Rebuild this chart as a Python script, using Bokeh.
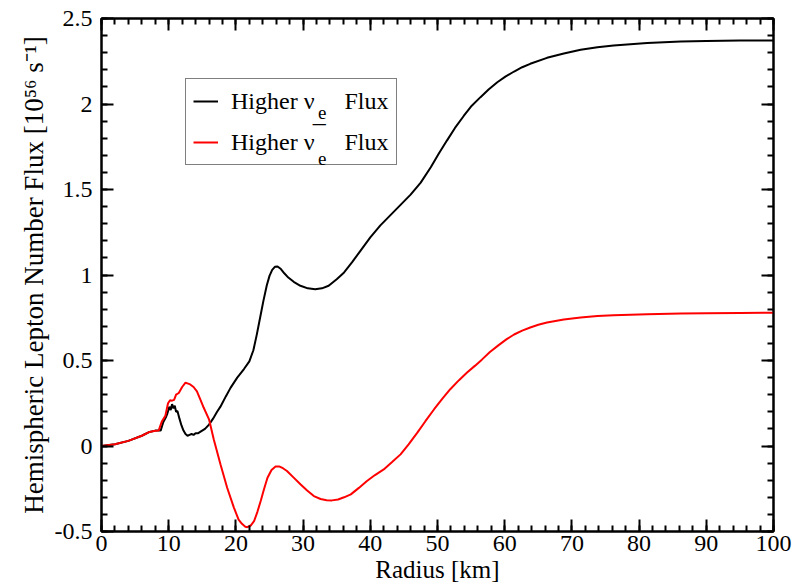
from bokeh.plotting import figure
from bokeh.models import (LinearAxis, FixedTicker, CustomJSTickFormatter, Legend, LegendItem,
                          Range1d, Label)
from bokeh.embed import file_html
from bokeh.resources import INLINE
import numpy as np

# ---- data ----
nue_x = [0, 2, 4, 6, 7, 8, 8.8, 9.2, 9.6, 9.8, 10.1, 10.3, 10.5, 10.7, 10.9, 11.1, 11.3, 11.6, 11.9,
         12.2, 12.5, 12.8, 13.1, 13.4, 13.7, 14.0, 14.4, 14.8, 15.4, 16.0, 16.6, 17.2, 17.7, 18.5,
         19.2, 20.2, 21.2, 22.0, 22.6, 23.1, 23.6, 24.1, 24.6, 25.0, 25.4, 25.8, 26.2, 26.7, 27.2,
         27.8, 28.6, 29.6, 30.7, 31.8, 32.8, 33.8, 35.0, 36.1, 37.3, 38.5, 40.0, 41.5, 43.0, 44.5,
         46.0, 47.5, 49.0, 50.2, 51.4, 52.6, 53.9, 55.1, 56.4, 57.6, 58.9, 60.1, 61.4, 62.6, 63.8,
         66.3, 68.8, 71.3, 73.8, 76.2, 78.7, 81.2, 86.2, 90, 95, 100]
nue_y = [0, 0.01, 0.03, 0.06, 0.08, 0.09, 0.09, 0.14, 0.17, 0.19, 0.23, 0.21, 0.245, 0.22, 0.235,
         0.20, 0.205, 0.16, 0.12, 0.09, 0.07, 0.06, 0.065, 0.07, 0.065, 0.075, 0.075, 0.085, 0.10,
         0.125, 0.16, 0.20, 0.23, 0.29, 0.34, 0.40, 0.45, 0.495, 0.56, 0.65, 0.75, 0.85, 0.94,
         0.995, 1.03, 1.048, 1.05, 1.035, 1.01, 0.985, 0.96, 0.937, 0.922, 0.917, 0.922, 0.937,
         0.975, 1.015, 1.075, 1.14, 1.22, 1.29, 1.35, 1.41, 1.47, 1.54, 1.63, 1.71, 1.786, 1.86,
         1.93, 1.99, 2.04, 2.085, 2.127, 2.16, 2.19, 2.215, 2.235, 2.27, 2.295, 2.317, 2.332,
         2.342, 2.35, 2.357, 2.365, 2.369, 2.371, 2.372]

anue_x = [0, 2, 4, 6, 7, 7.8, 8.5, 9.0, 9.5, 9.9, 10.2, 10.5, 10.8, 11.1, 11.5, 12.0, 12.5, 12.9,
          13.2, 13.7, 14.2, 14.7, 15.2, 16.0, 16.7, 17.7, 18.7, 19.7, 20.4, 20.9, 21.4, 21.7, 22.2,
          22.7, 23.2, 23.7, 24.2, 24.7, 25.3, 25.9, 26.5, 27.0, 27.6, 28.6, 29.6, 30.6, 31.6, 32.6,
          33.5, 34.3, 35.2, 36.1, 37.1, 38.3, 39.5, 40.7, 42.0, 43.2, 44.5, 45.7, 47.0, 48.2, 49.5,
          50.7, 51.9, 53.2, 54.4, 55.6, 56.6, 57.8, 59.1, 60.3, 61.4, 62.6, 63.8, 65.0, 66.3, 68.8,
          71.3, 73.8, 76.2, 81.2, 86.2, 90, 95, 100]
anue_y = [0, 0.01, 0.03, 0.06, 0.08, 0.088, 0.09, 0.145, 0.176, 0.25, 0.267, 0.265, 0.27, 0.30,
          0.31, 0.345, 0.37, 0.365, 0.36, 0.345, 0.32, 0.273, 0.225, 0.156, 0.04, -0.107, -0.244,
          -0.36, -0.43, -0.455, -0.472, -0.475, -0.465, -0.44, -0.385, -0.32, -0.25, -0.186, -0.14,
          -0.12, -0.12, -0.13, -0.146, -0.185, -0.224, -0.26, -0.293, -0.31, -0.317, -0.318,
          -0.313, -0.30, -0.283, -0.245, -0.205, -0.17, -0.137, -0.095, -0.049, 0.01, 0.078,
          0.145, 0.215, 0.275, 0.332, 0.385, 0.43, 0.47, 0.505, 0.55, 0.59, 0.625, 0.652, 0.675,
          0.693, 0.709, 0.722, 0.74, 0.751, 0.76, 0.765, 0.771, 0.775, 0.777, 0.778, 0.779]

x_ticks = [0, 10, 20, 30, 40, 50, 60, 70, 80, 90, 100]
y_ticks = [-0.5, 0, 0.5, 1, 1.5, 2, 2.5]
x_minor = [round(v, 3) for v in np.arange(0, 100.01, 2)]
y_minor = [round(v, 3) for v in np.arange(-0.5, 2.501, 0.1)]

NBSP = "\u00a0"
label_nue = "Higher \u03bd" + NBSP * 5 + "Flux"
label_anue = "Higher \u03bd" + NBSP * 5 + "Flux"
xlabel = "Radius [km]"
ylabel = "Hemispheric Lepton Number Flux [10\u2075\u2076 s\u207b\u00b9]"

FONT = "Liberation Serif"

p = figure(width=794, height=586, output_backend="svg", toolbar_location=None,
           x_range=Range1d(0, 100), y_range=Range1d(-0.5, 2.5),
           min_border_left=101, min_border_right=21, min_border_top=18, min_border_bottom=55,
           x_axis_label=xlabel, y_axis_label=ylabel)
p.grid.visible = False
p.outline_line_color = "black"
p.outline_line_width = 2
p.background_fill_color = "white"
p.border_fill_color = "white"

fmt = CustomJSTickFormatter(code="return tick.toString();")
blank_fmt = CustomJSTickFormatter(code="return '';")

def style_axis(ax, ticks, minor, show_labels):
    ax.ticker = FixedTicker(ticks=ticks, minor_ticks=minor)
    ax.axis_line_color = "black"
    ax.axis_line_width = 2
    ax.major_tick_in = 12
    ax.major_tick_out = 0
    ax.minor_tick_in = 6
    ax.minor_tick_out = 0
    ax.major_tick_line_width = 2
    ax.minor_tick_line_width = 2
    ax.major_tick_line_color = "black"
    ax.minor_tick_line_color = "black"
    if show_labels:
        ax.formatter = fmt
        ax.major_label_text_font = FONT
        ax.major_label_text_font_size = "24px"
        ax.major_label_text_color = "black"
        ax.axis_label_text_font = FONT
        ax.axis_label_text_font_size = "25px"
        ax.axis_label_text_font_style = "normal"
        ax.axis_label_text_color = "black"
    else:
        ax.formatter = blank_fmt
        ax.major_label_standoff = 0

style_axis(p.xaxis[0], x_ticks, x_minor, True)
style_axis(p.yaxis[0], y_ticks, y_minor, True)
p.xaxis[0].major_label_standoff = 4
p.xaxis[0].axis_label_standoff = 2
p.yaxis[0].major_label_standoff = 9
p.yaxis[0].axis_label_standoff = 3
p.yaxis[0].axis_label_text_font_size = "27px"

top_ax = LinearAxis()
right_ax = LinearAxis()
style_axis(top_ax, x_ticks, x_minor, False)
style_axis(right_ax, y_ticks, y_minor, False)
p.add_layout(top_ax, "above")
p.add_layout(right_ax, "right")

r1 = p.line(nue_x, nue_y, line_color="black", line_width=2)
r2 = p.line(anue_x, anue_y, line_color="#ff0000", line_width=2)

legend = Legend(items=[LegendItem(label=label_nue, renderers=[r1]),
                       LegendItem(label=label_anue, renderers=[r2])],
                location=(84, 366))
legend.label_text_font = FONT
legend.label_text_font_size = "24px"
legend.label_text_color = "black"
legend.glyph_width = 25
legend.glyph_height = 30
legend.label_height = 30
legend.label_standoff = 13
legend.padding = 7
legend.spacing = 11
legend.margin = 0
legend.border_line_color = "black"
legend.border_line_width = 1.5
legend.background_fill_alpha = 0.0
p.add_layout(legend, "center")

# subscript "e" and the anti-neutrino bar inside the legend entries
for ytxt in (1.95, 1.68):
    p.add_layout(Label(x=32.2, y=ytxt, text="e", text_font=FONT, text_font_size="19px",
                       text_color="black", text_align="left", text_baseline="alphabetic",
                       level="overlay"))
p.add_layout(Label(x=32.4, y=1.89, text="\u2013", text_font=FONT, text_font_size="26px",
                   text_color="black", text_align="center", text_baseline="middle",
                   level="overlay"))

open("out.html", "w").write(file_html(p, INLINE))
